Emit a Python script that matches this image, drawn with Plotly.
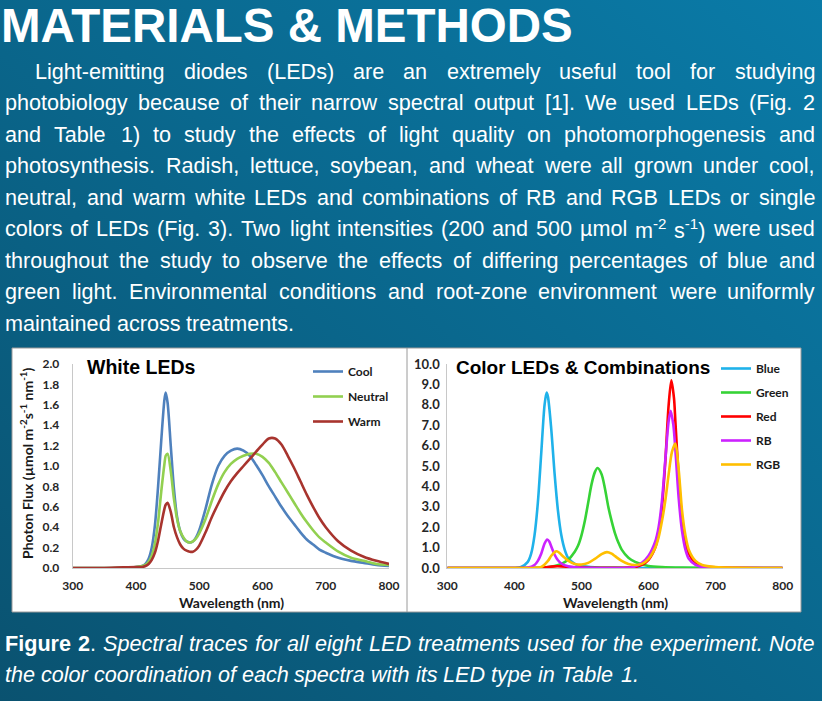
import base64
import re
import plotly.graph_objects as go

W, H = 822, 701

# ---------------- data ----------------
wl_white = [300, 350, 400, 410, 415, 420, 425, 430, 435, 440, 445, 447, 450, 455, 460, 465, 470, 475,
            480, 485, 490, 495, 500, 510, 520, 530, 540, 550, 560, 570, 580, 590, 600, 610, 620, 630,
            640, 650, 660, 670, 680, 690, 700, 720, 740, 760, 780, 800]
cool = [0, 0, 0.01, 0.02, 0.04, 0.09, 0.2, 0.42, 0.8, 1.25, 1.65, 1.72, 1.62, 1.2, 0.78, 0.5, 0.36, 0.29,
        0.26, 0.25, 0.26, 0.3, 0.37, 0.58, 0.82, 1.0, 1.1, 1.15, 1.17, 1.15, 1.1, 1.01, 0.91, 0.8, 0.7, 0.6,
        0.51, 0.43, 0.35, 0.28, 0.23, 0.18, 0.15, 0.1, 0.07, 0.05, 0.03, 0.02]
neutral = [0, 0, 0.01, 0.02, 0.03, 0.06, 0.12, 0.24, 0.45, 0.75, 1.02, 1.1, 1.12, 0.95, 0.68, 0.48, 0.36, 0.3,
           0.26, 0.25, 0.26, 0.29, 0.34, 0.48, 0.66, 0.82, 0.94, 1.02, 1.07, 1.1, 1.12, 1.12, 1.09, 1.03, 0.94, 0.84,
           0.74, 0.64, 0.54, 0.45, 0.37, 0.3, 0.25, 0.16, 0.1, 0.07, 0.04, 0.03]
warm = [0, 0, 0.01, 0.01, 0.02, 0.04, 0.08, 0.15, 0.27, 0.43, 0.58, 0.62, 0.64, 0.55, 0.4, 0.3, 0.23, 0.19,
        0.17, 0.16, 0.16, 0.18, 0.22, 0.35, 0.5, 0.63, 0.75, 0.85, 0.93, 1.0, 1.07, 1.14, 1.21, 1.27, 1.27, 1.21,
        1.1, 0.98, 0.85, 0.72, 0.6, 0.49, 0.4, 0.26, 0.17, 0.11, 0.07, 0.04]

wl_blue = [300, 350, 400, 410, 420, 425, 430, 435, 440, 445, 448, 450, 455, 460, 465, 470, 475, 480, 490,
           500, 520, 550, 600, 700, 800]
blue = [0, 0, 0, 0.05, 0.3, 0.7, 1.6, 3.2, 5.6, 8.0, 8.6, 8.4, 6.8, 4.6, 2.8, 1.6, 0.9, 0.5, 0.2,
        0.1, 0.04, 0.02, 0, 0, 0]

wl_green = [300, 400, 440, 460, 470, 480, 490, 495, 500, 505, 510, 515, 520, 524, 530, 535, 540, 545, 550,
            555, 560, 570, 580, 590, 600, 620, 650, 700, 800]
green = [0, 0, 0.02, 0.1, 0.2, 0.4, 0.8, 1.1, 1.6, 2.3, 3.2, 4.1, 4.7, 4.9, 4.6, 3.9, 3.0, 2.3, 1.7,
         1.25, 0.9, 0.5, 0.3, 0.18, 0.1, 0.05, 0.02, 0, 0]

wl_red = [300, 400, 440, 450, 460, 470, 480, 500, 550, 580, 590, 600, 610, 615, 620, 625, 630, 634, 638,
          640, 645, 650, 655, 660, 670, 680, 700, 800]
red = [0, 0, 0, 0.05, 0.08, 0.08, 0.06, 0.02, 0.01, 0.05, 0.15, 0.4, 1.0, 1.7, 3.0, 5.2, 8.0, 9.2, 8.3,
       7.2, 4.4, 2.4, 1.3, 0.7, 0.25, 0.1, 0.03, 0]

wl_rb = [300, 400, 420, 430, 435, 440, 445, 449, 452, 455, 460, 465, 470, 480, 490, 500, 570, 580, 590,
         600, 610, 615, 620, 625, 630, 633, 637, 640, 645, 650, 655, 660, 670, 680, 700, 800]
rb = [0, 0, 0.02, 0.15, 0.35, 0.7, 1.2, 1.4, 1.3, 1.05, 0.65, 0.38, 0.22, 0.08, 0.03, 0.01, 0.01, 0.08, 0.25,
      0.6, 1.3, 2.0, 3.3, 5.3, 7.2, 7.7, 7.0, 5.8, 3.4, 1.8, 0.9, 0.45, 0.15, 0.05, 0.01, 0]

wl_rgb = [300, 400, 440, 450, 455, 460, 463, 467, 470, 475, 480, 490, 500, 510, 520, 530, 538, 545, 550,
          560, 570, 580, 590, 600, 610, 615, 620, 625, 630, 635, 640, 645, 650, 655, 660, 670, 680, 700, 800]
rgb = [0, 0, 0.05, 0.35, 0.6, 0.78, 0.82, 0.75, 0.65, 0.5, 0.36, 0.2, 0.17, 0.25, 0.45, 0.68, 0.78, 0.7, 0.58,
       0.35, 0.2, 0.15, 0.2, 0.45, 1.0, 1.5, 2.3, 3.3, 4.6, 5.7, 6.1, 4.8, 2.8, 1.6, 0.9, 0.35, 0.15, 0.05, 0]

white_ticks = [0.0, 0.2, 0.4, 0.6, 0.8, 1.0, 1.2, 1.4, 1.6, 1.8, 2.0]
color_ticks = [0, 1, 2, 3, 4, 5, 6, 7, 8, 9, 10]
wl_ticks = [300, 400, 500, 600, 700, 800]

title_text = "MATERIALS &amp; METHODS"
body_lines = [
    "Light-emitting diodes (LEDs) are an extremely useful tool for studying",
    "photobiology because of their narrow spectral output [1].  We used LEDs (Fig. 2",
    "and Table 1) to study the effects of light quality on photomorphogenesis and",
    "photosynthesis. Radish, lettuce, soybean, and wheat were all grown under cool,",
    "neutral, and warm white LEDs and combinations of RB and RGB LEDs or single",
    "colors of LEDs (Fig. 3). Two light intensities (200 and 500 µmol m<sup>-2</sup> s<sup>-1</sup>) were used",
    "throughout the study to observe the effects of differing percentages of blue and",
    "green light. Environmental conditions and root-zone environment were uniformly",
    "maintained across treatments.",
]
caption_lines = [
    "<b>Figure</b> <b>2</b>. Spectral traces for all eight LED treatments used for the experiment. Note",
    "the color coordination of each spectra with its LED type in Table 1.",
]

# ---------------- text layout helpers (Arial/Liberation Sans advance widths) ----------------
_AW = {' ': 278, '!': 278, '(': 333, ')': 333, ',': 278, '-': 333, '.': 278, '/': 278, ':': 278, ';': 278,
       '[': 278, ']': 278, 'µ': 556, '&': 667,
       'A': 667, 'B': 667, 'C': 722, 'D': 722, 'E': 667, 'F': 611, 'G': 778, 'H': 722, 'I': 278, 'J': 500,
       'K': 667, 'L': 556, 'M': 833, 'N': 722, 'O': 778, 'P': 667, 'Q': 778, 'R': 722, 'S': 667, 'T': 611,
       'U': 722, 'V': 667, 'W': 944, 'X': 667, 'Y': 667, 'Z': 611,
       'a': 556, 'b': 556, 'c': 500, 'd': 556, 'e': 556, 'f': 278, 'g': 556, 'h': 556, 'i': 222, 'j': 222,
       'k': 500, 'l': 222, 'm': 833, 'n': 556, 'o': 556, 'p': 556, 'q': 556, 'r': 333, 's': 500, 't': 278,
       'u': 556, 'v': 500, 'w': 722, 'x': 500, 'y': 500, 'z': 500}
_AWB = {'F': 611, 'i': 278, 'g': 611, 'u': 611, 'r': 389, 'e': 556}


def word_width(word, size):
    total = 0.0
    scale = 1.0
    bold = False
    for tok in re.split(r'(<[^>]+>)', word):
        if tok.startswith('<'):
            t = tok.lower()
            if t == '<sup>':
                scale = 0.7
            elif t == '</sup>':
                scale = 1.0
            elif t == '<b>':
                bold = True
            elif t == '</b>':
                bold = False
            continue
        for ch in tok:
            w = _AWB.get(ch, _AW.get(ch, 556)) if bold else _AW.get(ch, 556)
            total += w * scale
    return total / 1000.0 * size


def px(x):
    return x / W


def py(y):
    return 1 - y / H


SANS = "Liberation Sans, Arial, sans-serif"
CAL = "Lato, Carlito, Calibri, sans-serif"
BODY_SIZE = 21.6
TEXT_R = 815
PAD = 2  # annotation inner padding


def layout_line(line, left, yc, justify, italic=False):
    words = [w for w in line.split(' ') if w]
    widths = [word_width(w, BODY_SIZE) for w in words]
    space = word_width(' ', BODY_SIZE)
    if justify and len(words) > 1:
        gap = (TEXT_R - left - sum(widths)) / (len(words) - 1)
    else:
        gap = space
    out = []
    x = left
    for w, wd in zip(words, widths):
        style = "italic" if (italic and not w.startswith('<b>')) else "normal"
        out.append(dict(text=w, x=px(x - PAD), y=py(yc), xanchor="left", yanchor="middle",
                        font=dict(family=SANS, size=BODY_SIZE, color="white", style=style)))
        x += wd + gap
    return out


fig = go.Figure()

white_series = [("Cool", cool, "#4f81bd"), ("Neutral", neutral, "#92d050"), ("Warm", warm, "#a8342e")]
for name, vals, col in white_series:
    fig.add_trace(go.Scatter(x=wl_white, y=vals, name=name, mode="lines",
                             line=dict(color=col, width=2.6, shape="spline", smoothing=0.8),
                             xaxis="x", yaxis="y", legend="legend", legendgroup=name))

color_series = [("Blue", wl_blue, blue, "#1fb2ea"), ("Green", wl_green, green, "#36d336"),
                ("Red", wl_red, red, "#ff0000"), ("RB", wl_rb, rb, "#cc22ff"),
                ("RGB", wl_rgb, rgb, "#ffbf00")]
for name, xs, vals, col in color_series:
    fig.add_trace(go.Scatter(x=xs, y=vals, name=name, mode="lines",
                             line=dict(color=col, width=2.6, shape="spline", smoothing=0.8),
                             xaxis="x2", yaxis="y2", legend="legend2", legendgroup=name))

ydom = [py(568), py(364)]
axis_common = dict(showgrid=False, zeroline=False, showline=True, linecolor="#c8c8c8", linewidth=1,
                   ticks="", automargin=False)
tickf12 = dict(family=CAL, size=12, color="#262626", weight="bold")
tickf13 = dict(family=CAL, size=13, color="#262626", weight="bold")

svg = ('<svg xmlns="http://www.w3.org/2000/svg" width="822" height="701">'
       '<defs><linearGradient id="g" x1="0" y1="1" x2="1" y2="0">'
       '<stop offset="0" stop-color="#0a5270"/><stop offset="1" stop-color="#0a7ba8"/>'
       '</linearGradient></defs><rect width="822" height="701" fill="url(#g)"/></svg>')
bg_src = "data:image/svg+xml;base64," + base64.b64encode(svg.encode()).decode()

annotations = [
    dict(text="<b>" + title_text + "</b>", x=px(-1), y=py(25), xanchor="left", yanchor="middle",
         font=dict(family=SANS, size=47.5, color="white")),
]
n = len(body_lines)
for i, line in enumerate(body_lines):
    left = 35 if i == 0 else 5
    annotations += layout_line(line, left, 71 + 31.5 * i, justify=(i < n - 1))
annotations += layout_line(caption_lines[0], 5, 643, justify=True, italic=True)
annotations += layout_line(caption_lines[1], 5, 674, justify=False, italic=True)

annotations += [
    dict(text="<b>White LEDs</b>", x=px(85), y=py(367), xanchor="left", yanchor="middle",
         font=dict(family=SANS, size=19.5, color="black")),
    dict(text="<b>Color LEDs &amp; Combinations</b>", x=px(454), y=py(367), xanchor="left", yanchor="middle",
         font=dict(family=SANS, size=19, color="black")),
    dict(text="<b>Wavelength (nm)</b>", x=px(231), y=py(602), xanchor="center", yanchor="middle",
         font=dict(family=CAL, size=14, color="#1a1a1a")),
    dict(text="<b>Wavelength (nm)</b>", x=px(615), y=py(602), xanchor="center", yanchor="middle",
         font=dict(family=CAL, size=14, color="#1a1a1a")),
    dict(text="<b>Photon Flux (µmol m<sup>-2</sup>s<sup>-1</sup> nm<sup>-1</sup>)</b>", x=px(27), y=py(463),
         xanchor="center", yanchor="middle", textangle=-90,
         font=dict(family=CAL, size=14, color="#1a1a1a")),
]
for a in annotations:
    a.update(xref="paper", yref="paper", showarrow=False)

fig.update_layout(
    width=W, height=H,
    margin=dict(l=0, r=0, t=0, b=0, autoexpand=False),
    template="none",
    paper_bgcolor="#0a6688",
    plot_bgcolor="rgba(0,0,0,0)",
    images=[dict(source=bg_src, xref="paper", yref="paper", x=0, y=1, sizex=1, sizey=1,
                 sizing="stretch", xanchor="left", yanchor="top", layer="below")],
    shapes=[
        dict(type="rect", xref="paper", yref="paper", x0=px(12), x1=px(801), y0=py(612), y1=py(348),
             fillcolor="white", line=dict(color="#9a9a9a", width=1), layer="below"),
        dict(type="line", xref="paper", yref="paper", x0=px(407), x1=px(407), y0=py(612), y1=py(348),
             line=dict(color="#9a9a9a", width=1), layer="below"),
    ],
    xaxis=dict(domain=[px(72.7), px(389)], range=[300, 800], anchor="y", tickvals=wl_ticks,
               ticklabelstandoff=7, tickfont=tickf12, **axis_common),
    yaxis=dict(domain=ydom, range=[0, 2], anchor="x", tickvals=white_ticks, tickformat=".1f",
               ticklabelstandoff=10, tickfont=tickf12, **axis_common),
    xaxis2=dict(domain=[px(447.3), px(782.7)], range=[300, 800], anchor="y2", tickvals=wl_ticks,
                ticklabelstandoff=7, tickfont=tickf12, **axis_common),
    yaxis2=dict(domain=ydom, range=[0, 10], anchor="x2", tickvals=color_ticks, tickformat=".1f",
                ticklabelstandoff=4, tickfont=tickf13, **axis_common),
    legend=dict(x=px(308), y=py(357), xanchor="left", yanchor="top", bgcolor="rgba(0,0,0,0)",
                tracegroupgap=6, font=dict(family=CAL, size=12, color="#1a1a1a", weight="bold")),
    legend2=dict(x=px(716), y=py(354), xanchor="left", yanchor="top", bgcolor="rgba(0,0,0,0)",
                 tracegroupgap=5, font=dict(family=CAL, size=12, color="#1a1a1a", weight="bold")),
    annotations=annotations,
    showlegend=True,
)

fig.write_html("out.html", config={"displayModeBar": False},
               post_script="document.body.style.margin='0';document.body.style.overflow='hidden';")
